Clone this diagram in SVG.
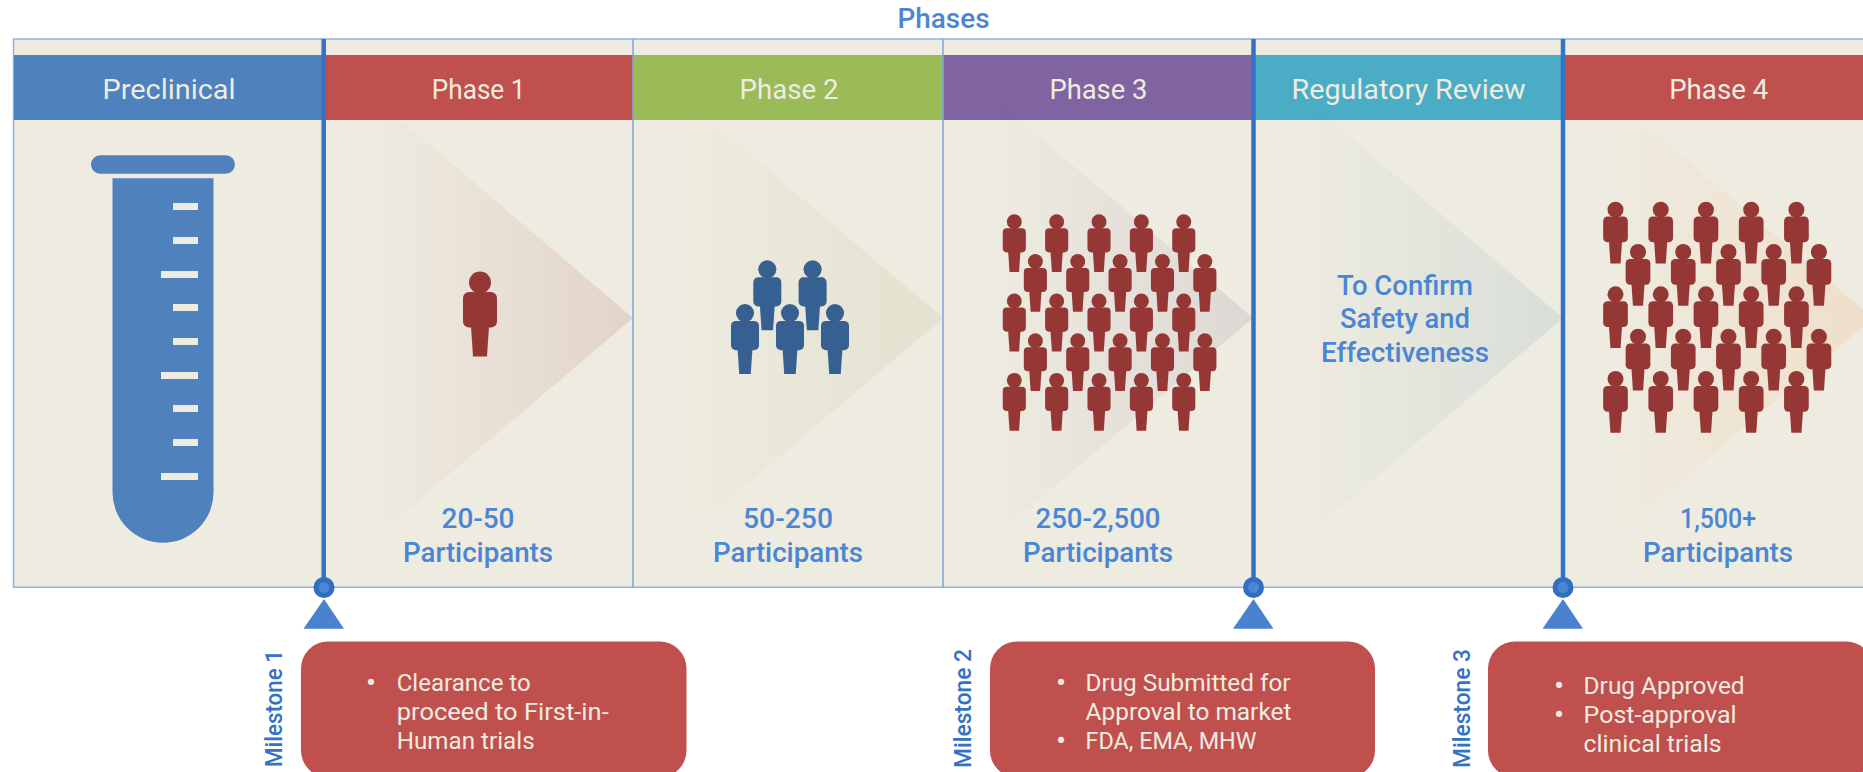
<svg xmlns="http://www.w3.org/2000/svg" xmlns:xlink="http://www.w3.org/1999/xlink" width="1863" height="772" viewBox="0 0 1863 772">
<style>
text{font-family:"Roboto","Liberation Sans",sans-serif}
.hd{font-size:27px;fill:#eeece1;text-anchor:middle;font-weight:400}
.bl{font-size:27px;fill:#4a86d4;text-anchor:middle;font-weight:500}
.ms{font-size:23px;fill:#3572c4;font-weight:500}
.li{font-size:23px;fill:#eeece1;font-weight:400}
.bu{font-size:30px;fill:#eeece1;text-anchor:middle}
.tick{fill:#eeebe0}
.frame{fill:#eeebe0;stroke:#8db3e2;stroke-width:1.5}
.sep{stroke:#7ba7e0;stroke-width:1.5;fill:none}
.mline{stroke:#3572c4;stroke-width:4.5;fill:none}
.dot{fill:#4a86d4;stroke:#2f6ec0;stroke-width:5}
.tri{fill:#4a82d0}
.box{fill:#c0504d}
</style>
<defs>
<linearGradient id="g1"><stop offset=".15" stop-color="#953735" stop-opacity="0"/><stop offset="1" stop-color="#953735" stop-opacity=".13"/></linearGradient>
<linearGradient id="g2"><stop offset=".15" stop-color="#76923c" stop-opacity="0"/><stop offset="1" stop-color="#76923c" stop-opacity=".1"/></linearGradient>
<linearGradient id="g3"><stop offset=".15" stop-color="#5f497a" stop-opacity="0"/><stop offset="1" stop-color="#5f497a" stop-opacity=".12"/></linearGradient>
<linearGradient id="g4"><stop offset=".15" stop-color="#31859c" stop-opacity="0"/><stop offset="1" stop-color="#31859c" stop-opacity=".12"/></linearGradient>
<linearGradient id="g5"><stop offset=".15" stop-color="#f79646" stop-opacity="0"/><stop offset="1" stop-color="#f79646" stop-opacity=".15"/></linearGradient>
<g id="person"><circle cx="0" cy="11" r="11"/><rect x="-17" y="20.5" width="34" height="35.5" rx="6"/><polygon points="-9,55 9,55 7,85 -7,85"/></g>
<g id="row"><use xlink:href="#person" x="0"/><use xlink:href="#person" x="62.3"/><use xlink:href="#person" x="124.6"/><use xlink:href="#person" x="186.9"/><use xlink:href="#person" x="249.2"/></g>
<g id="crowd"><use xlink:href="#row" y="0"/><use xlink:href="#row" x="31" y="58.3"/><use xlink:href="#row" y="116.6"/><use xlink:href="#row" x="31" y="174.9"/><use xlink:href="#row" y="233.2"/></g>
</defs>
<g id="frame"><rect class="frame" x="13.5" y="39" width="1870" height="548.3"/></g>
<g id="title"><text x="943.5" y="27.7" class="bl" textLength="92" lengthAdjust="spacingAndGlyphs">Phases</text></g>
<g id="preclinical">
<rect x="14" y="55" width="310" height="65" fill="#4f81bd"/>
<text x="169" y="98.7" class="hd" textLength="133" lengthAdjust="spacingAndGlyphs">Preclinical</text>
<rect x="91" y="155.3" width="144" height="18.4" rx="9.2" fill="#4f81bd"/>
<path d="M112.5 178.3H213.5V492.5A50.5 50.2 0 0 1 112.5 492.5Z" fill="#4f81bd"/>
<rect class="tick" x="173" y="203" width="25" height="7"/><rect class="tick" x="173" y="237" width="25" height="7"/><rect class="tick" x="161" y="271" width="37" height="7"/>
<rect class="tick" x="173" y="304" width="25" height="7"/><rect class="tick" x="173" y="338" width="25" height="7"/><rect class="tick" x="161" y="372" width="37" height="7"/>
<rect class="tick" x="173" y="405" width="25" height="7"/><rect class="tick" x="173" y="439" width="25" height="7"/><rect class="tick" x="161" y="473" width="37" height="7"/>
</g>
<g id="phase1">
<rect x="324" y="55" width="309" height="65" fill="#c0504d"/>
<polygon points="324,55 633,318 324,581" fill="url(#g1)"/>
<text x="478.6" y="98.7" class="hd" textLength="93.5" lengthAdjust="spacingAndGlyphs">Phase 1</text>
<use xlink:href="#person" transform="translate(480 271.5)" fill="#953735"/>
<text x="478" y="528.3" class="bl" textLength="73" lengthAdjust="spacingAndGlyphs">20-50</text>
<text x="478" y="562" class="bl" textLength="150" lengthAdjust="spacingAndGlyphs">Participants</text>
</g>
<g id="phase2">
<rect x="633" y="55" width="310" height="65" fill="#9bbb59"/>
<polygon points="633,55 943,318 633,581" fill="url(#g2)"/>
<text x="789" y="98.7" class="hd" textLength="99" lengthAdjust="spacingAndGlyphs">Phase 2</text>
<g fill="#366092">
<use xlink:href="#person" transform="translate(767.3 260.3) scale(.824)"/><use xlink:href="#person" transform="translate(812.6 260.3) scale(.824)"/>
<use xlink:href="#person" transform="translate(745 304) scale(.824)"/><use xlink:href="#person" transform="translate(790 304) scale(.824)"/><use xlink:href="#person" transform="translate(835 304) scale(.824)"/>
</g>
<text x="788" y="528.3" class="bl" textLength="90" lengthAdjust="spacingAndGlyphs">50-250</text>
<text x="788" y="562" class="bl" textLength="150" lengthAdjust="spacingAndGlyphs">Participants</text>
</g>
<g id="phase3">
<rect x="943" y="55" width="311" height="65" fill="#8064a2"/>
<polygon points="943,55 1253,318 943,581" fill="url(#g3)"/>
<text x="1098.4" y="98.7" class="hd" textLength="98" lengthAdjust="spacingAndGlyphs">Phase 3</text>
<use xlink:href="#crowd" transform="translate(1014.3 214.3) scale(.68)" fill="#953735"/>
<text x="1098" y="528.3" class="bl" textLength="125" lengthAdjust="spacingAndGlyphs">250-2,500</text>
<text x="1098" y="562" class="bl" textLength="150" lengthAdjust="spacingAndGlyphs">Participants</text>
</g>
<g id="regulatory-review">
<rect x="1254" y="55" width="309" height="65" fill="#4bacc6"/>
<polygon points="1254,55 1563,318 1254,581" fill="url(#g4)"/>
<text x="1408.5" y="98.7" class="hd" textLength="234" lengthAdjust="spacingAndGlyphs">Regulatory Review</text>
<text x="1405" y="294.7" class="bl" textLength="136" lengthAdjust="spacingAndGlyphs">To Confirm</text>
<text x="1405" y="328.3" class="bl" textLength="130" lengthAdjust="spacingAndGlyphs">Safety and</text>
<text x="1405" y="361.7" class="bl" textLength="168" lengthAdjust="spacingAndGlyphs">Effectiveness</text>
</g>
<g id="phase4">
<rect x="1563" y="55" width="300" height="65" fill="#c0504d"/>
<polygon points="1563,55 1873,318 1563,581" fill="url(#g5)"/>
<text x="1718.7" y="98.7" class="hd" textLength="99" lengthAdjust="spacingAndGlyphs">Phase 4</text>
<use xlink:href="#crowd" transform="translate(1615.5 201.7) scale(.726)" fill="#953735"/>
<text x="1718" y="528.3" class="bl" textLength="76" lengthAdjust="spacingAndGlyphs">1,500+</text>
<text x="1718" y="562" class="bl" textLength="150" lengthAdjust="spacingAndGlyphs">Participants</text>
</g>
<g id="connectors">
<path class="sep" d="M633 39V587M943 39V587"/>
<path class="mline" d="M323.7 39V587M1253.5 39V587M1563 39V587"/>
</g>
<g id="milestone1">
<circle class="dot" cx="324" cy="587.5" r="8"/><polygon class="tri" points="324,599 344,628.7 303.5,628.7"/>
<text class="ms" transform="translate(281.5 767) rotate(-90)" textLength="117" lengthAdjust="spacingAndGlyphs">Milestone 1</text>
<rect class="box" x="301" y="641.5" width="385.5" height="136" rx="27"/>
<text class="bu" x="371" y="693">•</text>
<text class="li" x="396.7" y="690.7" textLength="134" lengthAdjust="spacingAndGlyphs">Clearance to</text>
<text class="li" x="396.7" y="720" textLength="212" lengthAdjust="spacingAndGlyphs">proceed to First-in-</text>
<text class="li" x="396.7" y="748.7" textLength="138" lengthAdjust="spacingAndGlyphs">Human trials</text>
</g>
<g id="milestone2">
<circle class="dot" cx="1253.5" cy="587.5" r="8"/><polygon class="tri" points="1253.5,599 1273.5,628.7 1233,628.7"/>
<text class="ms" transform="translate(971 768) rotate(-90)" textLength="119" lengthAdjust="spacingAndGlyphs">Milestone 2</text>
<rect class="box" x="990" y="641.5" width="385" height="136" rx="27"/>
<text class="bu" x="1061" y="693">•</text>
<text class="li" x="1085.5" y="690.7" textLength="205" lengthAdjust="spacingAndGlyphs">Drug Submitted for</text>
<text class="li" x="1085.5" y="720" textLength="206" lengthAdjust="spacingAndGlyphs">Approval to market</text>
<text class="bu" x="1061" y="751">•</text>
<text class="li" x="1085.5" y="748.7" textLength="171" lengthAdjust="spacingAndGlyphs">FDA, EMA, MHW</text>
</g>
<g id="milestone3">
<circle class="dot" cx="1563" cy="587.5" r="8"/><polygon class="tri" points="1563,599 1583,628.7 1542.5,628.7"/>
<text class="ms" transform="translate(1470 768) rotate(-90)" textLength="119" lengthAdjust="spacingAndGlyphs">Milestone 3</text>
<rect class="box" x="1488" y="641.5" width="385" height="136" rx="27"/>
<text class="bu" x="1559" y="696.3">•</text>
<text class="li" x="1583.6" y="694" textLength="161" lengthAdjust="spacingAndGlyphs">Drug Approved</text>
<text class="bu" x="1559" y="725.3">•</text>
<text class="li" x="1583.6" y="723" textLength="153" lengthAdjust="spacingAndGlyphs">Post-approval</text>
<text class="li" x="1583.6" y="751.7" textLength="138" lengthAdjust="spacingAndGlyphs">clinical trials</text>
</g>
</svg>
